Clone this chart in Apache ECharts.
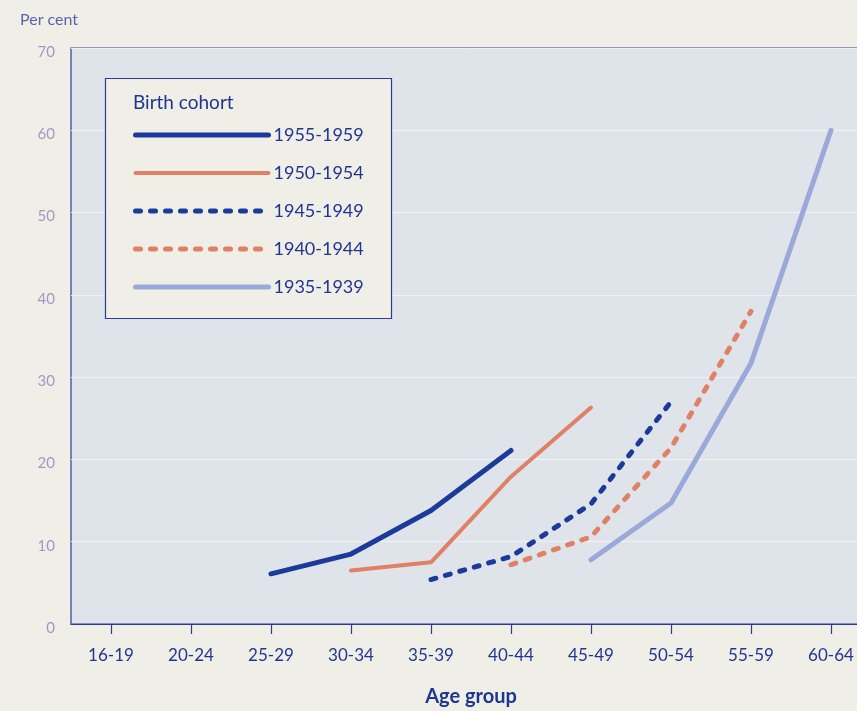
<!DOCTYPE html>
<html>
<head>
<meta charset="utf-8">
<script src="https://cdn.jsdelivr.net/npm/echarts@6/dist/echarts.min.js"></script>
<style>
  html, body { margin: 0; padding: 0; background: #efefe7; }
  #chart { width: 857px; height: 711px; }
</style>
</head>
<body>
<div id="chart"></div>
<script>
// Age groups along the x axis
const ageGroups = ['16-19', '20-24', '25-29', '30-34', '35-39', '40-44', '45-49', '50-54', '55-59', '60-64'];

// Per cent, by birth cohort (null where the cohort has no value)
const cohort1955 = [null, null, 6.1, 8.5, 13.8, 21.1, null, null, null, null];
const cohort1950 = [null, null, null, 6.5, 7.5, 17.9, 26.3, null, null, null];
const cohort1945 = [null, null, null, null, 5.4, 8.2, 14.6, 27.0, null, null];
const cohort1940 = [null, null, null, null, null, 7.2, 10.6, 21.4, 38.0, null];
const cohort1935 = [null, null, null, null, null, null, 7.8, 14.7, 31.7, 60.0];

const cohortNames = ['1955-1959', '1950-1954', '1945-1949', '1940-1944', '1935-1939'];

const NAVY = '#1c3a9a';
const CORAL = '#e08064';
const LAVENDER = '#9aa8da';
const FONT = 'Lato, "Open Sans", sans-serif';

function makeSeries(name, data, color, width, dashed) {
  return {
    name: name,
    type: 'line',
    data: data,
    symbol: 'none',
    connectNulls: false,
    lineStyle: {
      color: color,
      width: width,
      type: dashed ? [5, 10] : 'solid',
      cap: 'round',
      join: 'round'
    },
    itemStyle: { color: color },
    emphasis: { disabled: true }
  };
}

const chart = echarts.init(document.getElementById('chart'), null, { renderer: 'canvas' });

chart.setOption({
  backgroundColor: '#efefe7',
  animation: false,
  textStyle: { fontFamily: FONT },
  grid: {
    left: 71,
    top: 48,
    width: 800,
    bottom: 87,
    outerBoundsMode: 'none',
    containLabel: false,
    show: true,
    backgroundColor: '#dfe3ea',
    borderColor: '#2a3c96',
    borderWidth: 1.2
  },
  xAxis: {
    type: 'category',
    data: ageGroups,
    boundaryGap: true,
    axisLine: { show: true, lineStyle: { color: '#2a3c96', width: 1.2 } },
    axisTick: { show: true, alignWithLabel: true, length: 10, lineStyle: { color: '#2a3c96', width: 1.2 } },
    axisLabel: { color: '#233591', fontSize: 17, margin: 23, fontFamily: FONT },
    splitLine: { show: false },
    name: 'Age group',
    nameLocation: 'middle',
    nameGap: 63,
    nameTextStyle: { color: '#1f3592', fontSize: 20, fontWeight: 'bold', fontFamily: FONT }
  },
  yAxis: {
    type: 'value',
    min: 0,
    max: 70,
    interval: 10,
    axisLine: { show: false },
    axisTick: { show: false },
    axisLabel: { color: '#a298c8', fontSize: 15, margin: 16, fontFamily: FONT, verticalAlign: 'top', lineHeight: 8 },
    splitLine: { show: true, lineStyle: { color: '#f1f2f4', width: 1 } }
  },
  legend: {
    orient: 'vertical',
    left: 128,
    top: 120,
    data: cohortNames,
    itemWidth: 133,
    itemHeight: 20,
    itemGap: 18,
    selectedMode: false,
    itemStyle: { opacity: 0 },
    lineStyle: { width: 'inherit' },
    textStyle: { color: '#223493', fontSize: 18, fontFamily: FONT, lineHeight: 20 }
  },
  graphic: [
    {
      type: 'rect',
      shape: { x: 105.5, y: 78.5, width: 286, height: 240 },
      style: { fill: '#efefe7', stroke: '#2a3c96', lineWidth: 1.2 },
      z: 3
    },
    {
      type: 'text',
      left: 133,
      top: 93,
      style: { text: 'Birth cohort', fill: '#223493', font: '19px ' + FONT },
      z: 4
    },
    {
      type: 'text',
      left: 20,
      top: 12,
      style: { text: 'Per cent', fill: '#5c63a6', font: '16px ' + FONT },
      z: 4
    }
  ],
  series: [
    makeSeries(cohortNames[0], cohort1955, NAVY, 5, false),
    makeSeries(cohortNames[1], cohort1950, CORAL, 4, false),
    makeSeries(cohortNames[2], cohort1945, NAVY, 5, true),
    makeSeries(cohortNames[3], cohort1940, CORAL, 5, true),
    makeSeries(cohortNames[4], cohort1935, LAVENDER, 5, false)
  ]
});
</script>
</body>
</html>
